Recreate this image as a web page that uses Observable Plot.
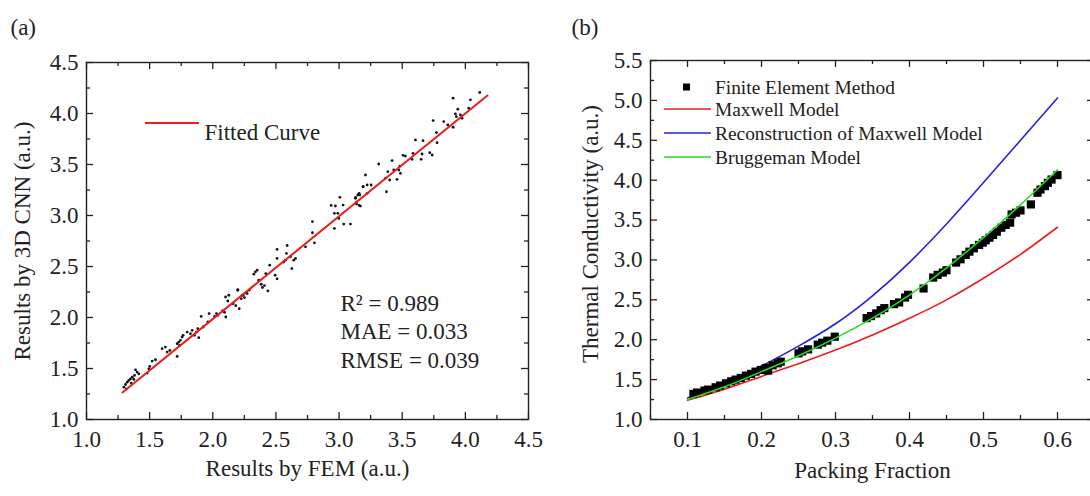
<!DOCTYPE html>
<html>
<head>
<meta charset="utf-8">
<script src="https://cdn.jsdelivr.net/npm/d3@7"></script>
<script src="https://cdn.jsdelivr.net/npm/@observablehq/plot@0.6"></script>
<style>
  html, body { margin: 0; padding: 0; background: #fff; overflow: hidden; }
  #wrap { position: relative; width: 1090px; height: 496px; overflow: hidden; background: #fff; }
  #wrap svg { position: absolute; top: 0; }
</style>
</head>
<body>
<div id="wrap"></div>
<script>
// ---------- (a) 3D CNN prediction vs FEM ----------
const femA = [
  1.296,1.309,1.322,1.335,1.317,1.348,1.362,1.375,1.354,1.388,1.401,1.414,1.380,
  1.480,1.494,1.501,1.520,1.546,1.599,1.625,1.639,1.660,1.718,1.718,1.731,1.744,
  1.757,1.736,1.765,1.797,1.823,1.837,1.855,1.871,1.882,1.889,1.908,1.924,1.961,
  1.971,2.013,2.029,2.040,2.077,2.093,2.103,2.101,2.127,2.119,2.161,2.182,2.209,
  2.198,2.225,2.240,2.267,
  2.198,2.232,2.251,2.272,2.288,2.338,2.351,2.325,2.364,2.383,2.393,2.409,2.436,
  2.420,2.451,2.494,2.509,2.509,2.509,2.562,2.575,2.589,2.583,2.615,2.626,2.641,
  2.655,2.734,2.789,2.789,2.805,2.937,2.971,3.006,3.032,2.963,2.990,2.998,2.963,
  3.037,3.090,3.130,3.148,3.159,3.138,3.159,3.190,3.222,
  3.130,3.164,3.169,3.138,3.190,3.209,3.222,3.254,3.314,3.367,3.375,3.386,3.401,
  3.420,3.433,3.459,3.473,3.486,3.481,3.507,3.525,3.578,3.586,3.605,3.650,3.657,
  3.665,3.718,3.737,3.745,3.771,3.776,3.829,3.861,3.903,3.903,3.921,3.929,3.940,
  3.961,3.974,4.040,4.027,4.114
];
const cnnA = [
  1.317,1.343,1.366,1.383,1.301,1.399,1.415,1.393,1.357,1.487,1.465,1.448,1.432,
  1.455,1.497,1.520,1.573,1.586,1.694,1.710,1.661,1.677,1.618,1.743,1.759,1.776,
  1.808,1.726,1.825,1.857,1.841,1.874,1.825,1.857,1.890,1.802,2.011,1.907,1.956,
  2.038,2.011,2.038,2.021,2.064,2.051,2.005,2.201,2.218,2.162,2.136,2.116,2.087,
  2.267,2.185,2.218,2.241,
  2.274,2.218,2.195,2.235,2.268,2.448,2.464,2.425,2.366,2.326,2.294,2.313,2.261,
  2.431,2.513,2.415,2.379,2.667,2.579,2.543,2.562,2.706,2.628,2.595,2.480,2.562,
  2.579,2.693,2.939,2.831,2.732,3.099,3.093,3.178,3.102,3.021,3.021,2.971,2.873,
  2.916,2.916,3.168,3.201,3.217,3.132,3.099,3.283,3.299,
  3.177,3.200,3.092,3.112,3.282,3.397,3.217,3.299,3.505,3.364,3.233,3.430,3.348,
  3.538,3.446,3.354,3.446,3.413,3.485,3.590,3.583,3.551,3.610,3.741,3.551,3.603,
  3.734,3.616,3.593,3.931,3.813,3.714,3.921,3.888,3.865,4.150,3.996,3.970,4.042,
  3.986,3.953,4.134,4.052,4.206
];
// linear fit end points
const fitFEM = [1.285, 4.175];
const fitCNN = [1.265, 4.176];
const fitLabel = "Fitted Curve";
const statLines = ["R\u00B2 = 0.989", "MAE = 0.033", "RMSE = 0.039"];
const majorA = [1.0, 1.5, 2.0, 2.5, 3.0, 3.5, 4.0, 4.5];
const minorA = [1.25, 1.75, 2.25, 2.75, 3.25, 3.75, 4.25];

// ---------- (b) thermal conductivity vs packing fraction ----------
const phiModel = [0.10, 0.15, 0.20, 0.25, 0.30, 0.35, 0.40, 0.45, 0.50, 0.55, 0.60];
const maxwellK = [1.24, 1.38, 1.54, 1.70, 1.87, 2.06, 2.27, 2.50, 2.77, 3.07, 3.41];
const reconK   = [1.27, 1.45, 1.67, 1.92, 2.20, 2.55, 2.97, 3.45, 3.97, 4.50, 5.03];
const bruggK   = [1.25, 1.41, 1.60, 1.80, 2.02, 2.27, 2.56, 2.90, 3.28, 3.69, 4.13];
const phiFEM = [
  0.108,0.113,0.123,0.128,0.138,0.144,0.152,0.159,0.165,0.172,0.179,0.186,0.192,
  0.199,0.206,0.209,0.215,0.222,0.226,0.250,0.255,0.263,0.276,0.282,0.289,0.299,
  0.342,0.348,0.355,0.361,0.366,0.379,0.386,0.394,0.398,0.419,0.432,0.438,0.445,
  0.450,0.463,0.469,0.476,0.481,0.487,0.494,0.499,0.503,0.508,0.513,0.518,0.524,
  0.530,0.536,0.538,0.544,0.550,0.564,0.573,0.577,0.583,0.587,0.592,0.600
];
const kFEM = [
  1.321,1.338,1.363,1.375,1.404,1.425,1.454,1.479,1.500,1.521,1.550,1.571,1.600,
  1.621,1.646,1.613,1.679,1.704,1.725,1.829,1.854,1.879,1.938,1.963,1.988,2.038,
  2.271,2.296,2.329,2.371,2.396,2.446,2.467,2.529,2.563,2.642,2.779,2.813,2.842,
  2.871,2.967,3.008,3.063,3.104,3.146,3.188,3.217,3.246,3.279,3.313,3.354,3.404,
  3.438,3.467,3.571,3.592,3.621,3.696,3.842,3.883,3.925,3.967,4.008,4.063
];
const legendB = [
  {name: "Finite Element Method", kind: "square", color: "#000"},
  {name: "Maxwell Model", kind: "line", color: "#f01a1a"},
  {name: "Reconstruction of Maxwell Model", kind: "line", color: "#2222dd"},
  {name: "Bruggeman Model", kind: "line", color: "#22dd22"}
];
const majorBx = [0.1, 0.2, 0.3, 0.4, 0.5, 0.6];
const minorBx = [0.05, 0.15, 0.25, 0.35, 0.45, 0.55, 0.65];
const majorBy = [1.0, 1.5, 2.0, 2.5, 3.0, 3.5, 4.0, 4.5, 5.0, 5.5];
const minorBy = [1.25, 1.75, 2.25, 2.75, 3.25, 3.75, 4.25, 4.75, 5.25];

// ---------- shared helpers ----------
const FONT = "'Liberation Serif', 'Times New Roman', serif";
const INK = "#222";
const fmt1 = d3.format(".1f");
const txt = {fontFamily: FONT, fontSize: 23, fill: INK};

// inward ticks on all four sides of the frame
function frameTicks(xs, ys, len, fw, fh) {
  const o = {stroke: INK, strokeWidth: 1.3};
  return [
    Plot.ruleX(xs, {x: d => d, insetTop: fh - len, ...o}),
    Plot.ruleX(xs, {x: d => d, insetBottom: fh - len, ...o}),
    Plot.ruleY(ys, {y: d => d, insetRight: fw - len, ...o}),
    Plot.ruleY(ys, {y: d => d, insetLeft: fw - len, ...o})
  ];
}

const wrap = document.getElementById("wrap");

// ---------- panel (a) ----------
{
  const W = 545, H = 496, mL = 86, mR = 17, mT = 62, mB = 77;
  const fw = W - mL - mR, fh = H - mT - mB;
  const pts = femA.map((x, i) => ({x, y: cnnA[i]}));
  const fit = fitFEM.map((x, i) => ({x, y: fitCNN[i]}));
  const svg = Plot.plot({
    width: W, height: H,
    marginLeft: mL, marginRight: mR, marginTop: mT, marginBottom: mB,
    style: {fontFamily: FONT, fontSize: "23px", color: INK, background: "transparent", overflow: "visible"},
    x: {domain: [1, 4.5]},
    y: {domain: [1, 4.5]},
    marks: [
      Plot.dot(pts, {x: "x", y: "y", r: 1.4, fill: "#111", stroke: null}),
      Plot.line(fit, {x: "x", y: "y", stroke: "#ea1c1c", strokeWidth: 2}),
      ...frameTicks(majorA, majorA, 7, fw, fh),
      ...frameTicks(minorA, minorA, 4, fw, fh),
      Plot.frame({stroke: INK, strokeWidth: 1.4}),
      Plot.axisX(majorA, {tickSize: 0, tickPadding: 11, tickFormat: fmt1, label: null, fontVariant: "normal", ...txt}),
      Plot.axisY(majorA, {tickSize: 0, tickPadding: 8, tickFormat: fmt1, label: null, fontVariant: "normal", ...txt}),
      Plot.text(["Results by FEM (a.u.)"], {frameAnchor: "bottom", dy: 56, textAnchor: "middle", ...txt}),
      Plot.text(["Results by 3D CNN (a.u.)"], {frameAnchor: "left", dx: -64, rotate: -90, textAnchor: "middle", ...txt}),
      Plot.text(["(a)"], {frameAnchor: "top-left", dx: -76, dy: -44, textAnchor: "start", ...txt}),
      Plot.text([statLines.join("\n")], {frameAnchor: "top-left", dx: 254, dy: 228, textAnchor: "start", lineAnchor: "top", lineHeight: 1.24, ...txt}),
      Plot.text([fitLabel], {frameAnchor: "top-left", dx: 118, dy: 61, textAnchor: "start", ...txt})
    ]
  });
  svg.style.left = "0px";
  // legend swatch for the fitted line
  d3.select(svg).append("line")
    .attr("x1", mL + 59).attr("x2", mL + 113)
    .attr("y1", mT + 61).attr("y2", mT + 61)
    .attr("stroke", "#ea1c1c").attr("stroke-width", 2);
  wrap.appendChild(svg);
}

// ---------- panel (b) ----------
{
  const W = 560, H = 496, mL = 105, mR = 11, mT = 60, mB = 77;
  const fw = W - mL - mR, fh = H - mT - mB;
  const curve = (ys) => phiModel.map((x, i) => ({x, y: ys[i]}));
  const fem = phiFEM.map((x, i) => ({x, y: kFEM[i]}));
  const svg = Plot.plot({
    width: W, height: H,
    marginLeft: mL, marginRight: mR, marginTop: mT, marginBottom: mB,
    style: {fontFamily: FONT, fontSize: "23px", color: INK, background: "transparent", overflow: "visible"},
    x: {domain: [0.05, 0.65]},
    y: {domain: [1, 5.5]},
    marks: [
      Plot.line(curve(maxwellK), {x: "x", y: "y", stroke: legendB[1].color, strokeWidth: 1.6, curve: "natural"}),
      Plot.line(curve(reconK), {x: "x", y: "y", stroke: legendB[2].color, strokeWidth: 1.6, curve: "natural"}),
      Plot.dot(fem, {x: "x", y: "y", symbol: "square", r: 4.6, fill: "#000", stroke: null}),
      Plot.line(curve(bruggK), {x: "x", y: "y", stroke: legendB[3].color, strokeWidth: 1.6, curve: "natural"}),
      ...frameTicks(majorBx, majorBy, 7, fw, fh),
      ...frameTicks(minorBx, minorBy, 4, fw, fh),
      Plot.frame({stroke: INK, strokeWidth: 1.4}),
      Plot.axisX(majorBx, {tickSize: 0, tickPadding: 11, tickFormat: fmt1, label: null, fontVariant: "normal", ...txt}),
      Plot.axisY(majorBy, {tickSize: 0, tickPadding: 8, tickFormat: fmt1, label: null, fontVariant: "normal", ...txt}),
      Plot.text(["Packing Fraction"], {frameAnchor: "bottom", dy: 58, textAnchor: "middle", ...txt}),
      Plot.text(["Thermal Conductivity (a.u.)"], {frameAnchor: "left", dx: -60, dy: -6, rotate: -90, textAnchor: "middle", ...txt}),
      Plot.text(["(b)"], {frameAnchor: "top-left", dx: -79, dy: -42, textAnchor: "start", ...txt})
    ]
  });
  svg.style.left = "545px";
  // legend, inside the upper-left corner of the frame
  const rowOffsets = [27, 49, 73, 97];
  const g = d3.select(svg).append("g").attr("text-anchor", "start").attr("font-family", FONT);
  legendB.forEach((d, i) => {
    const cy = mT + rowOffsets[i];
    if (d.kind === "square") {
      g.append("rect").attr("x", mL + 33).attr("y", cy - 3.5).attr("width", 7).attr("height", 7).attr("fill", d.color);
    } else {
      g.append("line").attr("x1", mL + 14).attr("x2", mL + 61).attr("y1", cy).attr("y2", cy)
        .attr("stroke", d.color).attr("stroke-width", 1.6);
    }
    g.append("text").attr("x", mL + 65).attr("y", cy).attr("dy", "0.35em")
      .attr("text-anchor", "start")
      .attr("font-size", 19.4).attr("fill", INK).text(d.name);
  });
  wrap.appendChild(svg);
}
</script>
</body>
</html>
